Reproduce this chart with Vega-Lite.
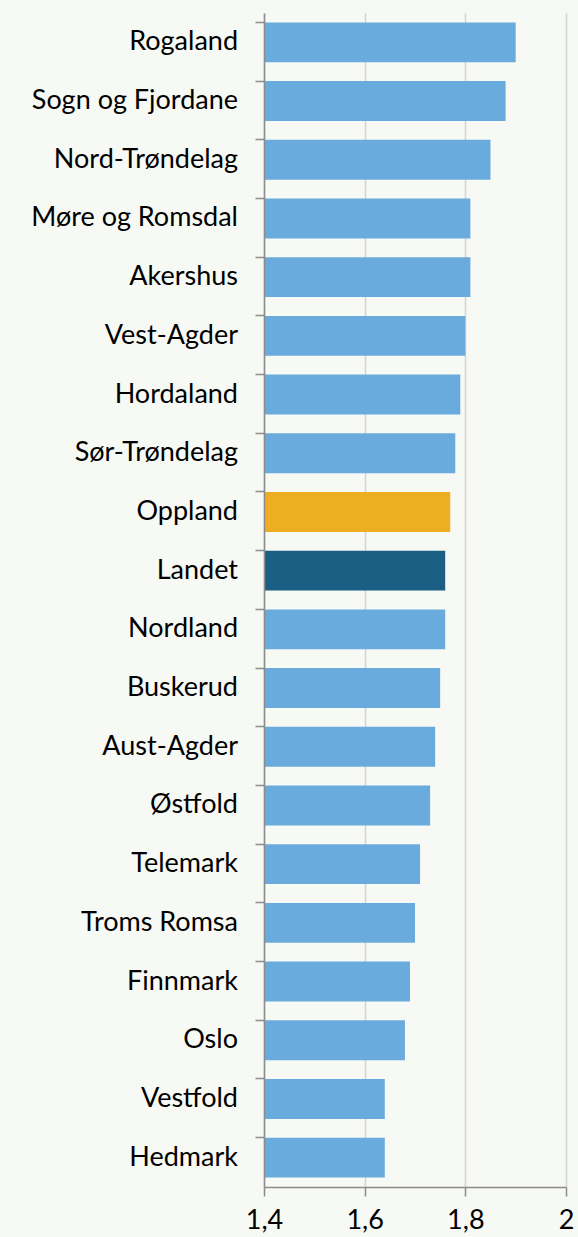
{
  "$schema": "https://vega.github.io/schema/vega-lite/v6.json",
  "width": 302,
  "height": 1174,
  "autosize": {"type": "none"},
  "padding": {"left": 264, "top": 13, "right": 12, "bottom": 50},
  "background": "#f7f9f4",
  "config": {
    "view": {"stroke": null},
    "font": "Lato"
  },
  "data": {
    "values": [
      {"fylke": "Rogaland", "verdi": 1.90, "type": "fylke"},
      {"fylke": "Sogn og Fjordane", "verdi": 1.88, "type": "fylke"},
      {"fylke": "Nord-Trøndelag", "verdi": 1.85, "type": "fylke"},
      {"fylke": "Møre og Romsdal", "verdi": 1.81, "type": "fylke"},
      {"fylke": "Akershus", "verdi": 1.81, "type": "fylke"},
      {"fylke": "Vest-Agder", "verdi": 1.80, "type": "fylke"},
      {"fylke": "Hordaland", "verdi": 1.79, "type": "fylke"},
      {"fylke": "Sør-Trøndelag", "verdi": 1.78, "type": "fylke"},
      {"fylke": "Oppland", "verdi": 1.77, "type": "oppland"},
      {"fylke": "Landet", "verdi": 1.76, "type": "landet"},
      {"fylke": "Nordland", "verdi": 1.76, "type": "fylke"},
      {"fylke": "Buskerud", "verdi": 1.75, "type": "fylke"},
      {"fylke": "Aust-Agder", "verdi": 1.74, "type": "fylke"},
      {"fylke": "Østfold", "verdi": 1.73, "type": "fylke"},
      {"fylke": "Telemark", "verdi": 1.71, "type": "fylke"},
      {"fylke": "Troms Romsa", "verdi": 1.70, "type": "fylke"},
      {"fylke": "Finnmark", "verdi": 1.69, "type": "fylke"},
      {"fylke": "Oslo", "verdi": 1.68, "type": "fylke"},
      {"fylke": "Vestfold", "verdi": 1.64, "type": "fylke"},
      {"fylke": "Hedmark", "verdi": 1.64, "type": "fylke"}
    ]
  },
  "mark": {"type": "bar", "clip": true},
  "encoding": {
    "y": {
      "field": "fylke",
      "type": "nominal",
      "sort": null,
      "scale": {"paddingInner": 0.32, "paddingOuter": 0.16},
      "axis": {
        "title": null,
        "bandPosition": 0,
        "domainColor": "#8c8c8c",
        "domainWidth": 1.5,
        "tickColor": "#8c8c8c",
        "tickWidth": 1.5,
        "tickSize": 9,
        "labelFontSize": 27,
        "labelColor": "#000000",
        "labelPadding": 17.5,
        "labelLimit": 300,
        "zindex": 1
      }
    },
    "x": {
      "field": "verdi",
      "type": "quantitative",
      "scale": {"domain": [1.4, 2], "nice": false, "zero": false},
      "axis": {
        "title": null,
        "values": [1.4, 1.6, 1.8, 2],
        "labelExpr": "replace(format(datum.value, '~g'), '.', ',')",
        "domainColor": "#8c8c8c",
        "domainWidth": 1.5,
        "tickColor": "#8c8c8c",
        "tickWidth": 1.5,
        "tickSize": 9,
        "gridColor": "#d4d4d4",
        "gridWidth": 1.5,
        "labelFontSize": 27,
        "labelColor": "#000000",
        "labelPadding": 11,
        "labelFlush": false
      }
    },
    "color": {
      "field": "type",
      "type": "nominal",
      "scale": {"domain": ["fylke", "oppland", "landet"], "range": ["#6aabdd", "#eeae22", "#1b5f84"]},
      "legend": null
    }
  }
}
